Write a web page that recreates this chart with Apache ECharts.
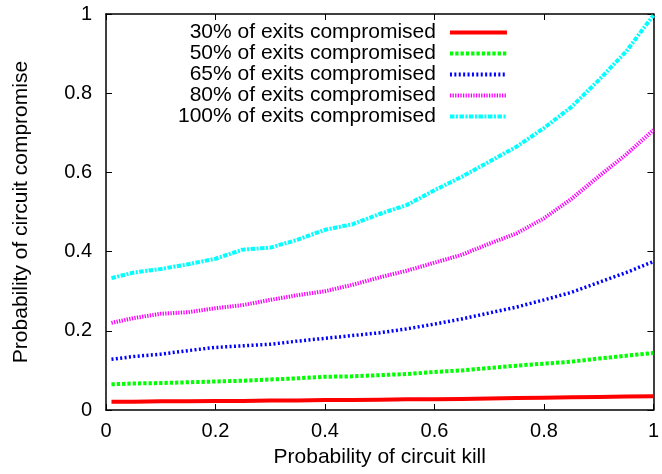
<!DOCTYPE html>
<html>
<head>
<meta charset="utf-8">
<script src="https://cdn.jsdelivr.net/npm/echarts@6/dist/echarts.min.js"></script>
<style>
html,body{margin:0;padding:0;background:#fff;}
#c{width:662px;height:474px;}
</style>
</head>
<body>
<div id="c"></div>
<script>
var killProb = [0.01,0.05,0.1,0.15,0.2,0.25,0.3,0.35,0.4,0.45,0.5,0.55,0.6,0.65,0.7,0.75,0.8,0.85,0.9,0.95,1.0];
var exits30  = [0.021,0.021,0.022,0.022,0.023,0.023,0.024,0.024,0.025,0.025,0.026,0.027,0.027,0.028,0.029,0.030,0.031,0.032,0.033,0.034,0.035];
var exits50  = [0.065,0.067,0.068,0.070,0.072,0.074,0.077,0.080,0.084,0.085,0.088,0.091,0.096,0.100,0.106,0.112,0.117,0.122,0.130,0.137,0.144];
var exits65  = [0.128,0.135,0.141,0.150,0.158,0.162,0.166,0.174,0.181,0.188,0.195,0.205,0.217,0.230,0.245,0.260,0.278,0.297,0.322,0.347,0.375];
var exits80  = [0.220,0.232,0.243,0.247,0.257,0.265,0.278,0.290,0.300,0.316,0.335,0.352,0.372,0.392,0.420,0.446,0.484,0.533,0.590,0.645,0.707];
var exits100 = [0.333,0.347,0.356,0.368,0.382,0.405,0.410,0.430,0.455,0.469,0.495,0.518,0.555,0.589,0.627,0.665,0.712,0.765,0.833,0.905,0.997];
var seriesNames = ['30% of exits compromised','50% of exits compromised','65% of exits compromised','80% of exits compromised','100% of exits compromised'];
var xTicks = ['0','0.2','0.4','0.6','0.8','1'];
var yTicks = ['0','0.2','0.4','0.6','0.8','1'];

var FONT = "'Liberation Sans', Arial, sans-serif";
function pairs(ys){ return killProb.map(function(x,i){ return [x, ys[i]]; }); }

var styles = [
  {color:'#ff0000', width:4, type:'solid'},
  {color:'#00ff00', width:4, type:[3.3,2]},
  {color:'#0000ff', width:3.5, type:[2,2.4]},
  {color:'#ff00ff', width:4, type:[1.3,1.3]},
  {color:'#00ffff', width:4, type:[4.5,1.5,2,1.5]}
];
var datas = [exits30, exits50, exits65, exits80, exits100];

var series = datas.map(function(d,i){
  return {
    name: seriesNames[i], type:'line', data: pairs(d), symbol:'none', smooth:false,
    animation:false,
    lineStyle:{color:styles[i].color, width:styles[i].width, type:styles[i].type, cap:'butt'},
    itemStyle:{color:styles[i].color}
  };
});

var chart = echarts.init(document.getElementById('c'), null, {renderer:'canvas'});
chart.setOption({
  animation:false,
  backgroundColor:'#fff',
  grid:{left:106, right:6, top:14, bottom:64, containLabel:false},
  legend:{
    orient:'vertical', left:173, top:17, align:'right',
    itemWidth:57, itemHeight:14, itemGap:0,
    selectedMode:false,
    data: seriesNames,
    itemStyle:{color:'rgba(0,0,0,0)', borderWidth:0, opacity:0},
    lineStyle:{width:4},
    formatter: function(n){ return '{a|' + n + '}'; },
    textStyle:{fontFamily:FONT, fontSize:21, color:'#000', lineHeight:21,
      rich:{a:{fontFamily:FONT, fontSize:21, color:'#000', width:257, align:'right', padding:[0,9,0,0], lineHeight:21}}}
  },
  xAxis:[{
    type:'value', min:0, max:1, interval:0.2, position:'bottom',
    name:'Probability of circuit kill', nameLocation:'middle', nameGap:37,
    nameTextStyle:{fontFamily:FONT, fontSize:21, color:'#000'},
    axisLine:{show:true, onZero:false, lineStyle:{color:'#000', width:1.5}},
    axisTick:{show:true, inside:true, length:6, lineStyle:{color:'#000', width:1}},
    axisLabel:{fontFamily:FONT, fontSize:20, color:'#000', margin:11,
      formatter:function(v){ return xTicks[Math.round(v/0.2)]; }},
    splitLine:{show:false}
  },{
    type:'value', min:0, max:1, interval:0.2, position:'top',
    axisLine:{show:true, onZero:false, lineStyle:{color:'#000', width:1.5}},
    axisTick:{show:true, inside:true, length:6, lineStyle:{color:'#000', width:1}},
    axisLabel:{show:false}, splitLine:{show:false}
  }],
  yAxis:[{
    type:'value', min:0, max:1, interval:0.2, position:'left',
    name:'Probability of circuit compromise', nameLocation:'middle', nameGap:74,
    nameTextStyle:{fontFamily:FONT, fontSize:21, color:'#000'},
    axisLine:{show:true, onZero:false, lineStyle:{color:'#000', width:1.5}},
    axisTick:{show:true, inside:true, length:6, lineStyle:{color:'#000', width:1}},
    axisLabel:{fontFamily:FONT, fontSize:20, color:'#000', margin:14,
      formatter:function(v){ return yTicks[Math.round(v/0.2)]; }},
    splitLine:{show:false}
  },{
    type:'value', min:0, max:1, interval:0.2, position:'right',
    axisLine:{show:true, onZero:false, lineStyle:{color:'#000', width:1.5}},
    axisTick:{show:true, inside:true, length:6, lineStyle:{color:'#000', width:1}},
    axisLabel:{show:false}, splitLine:{show:false}
  }],
  series: series
});
</script>
</body>
</html>
